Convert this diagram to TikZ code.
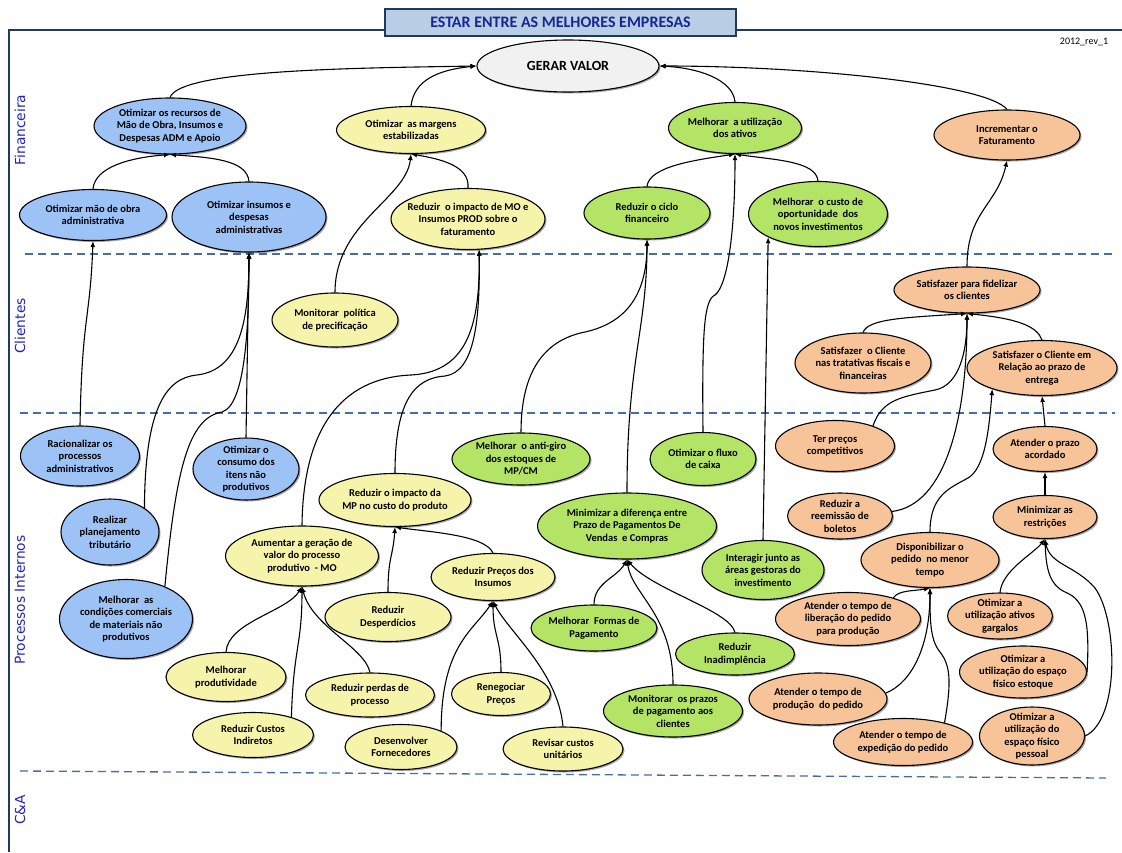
\documentclass[tikz,border=0pt]{standalone}
\usepackage{fontspec}
\setmainfont{Carlito}
\newfontfamily\sidefont{DejaVu Sans}
\usetikzlibrary{shapes.geometric,arrows.meta,shadows}
\definecolor{cblue}{RGB}{157,195,246}
\definecolor{cyel}{RGB}{246,243,170}
\definecolor{cgreen}{RGB}{180,228,102}
\definecolor{corange}{RGB}{246,196,152}
\definecolor{cgray}{RGB}{241,241,241}
\definecolor{navy}{RGB}{31,56,100}
\definecolor{dashc}{RGB}{70,110,165}
\definecolor{lblue}{RGB}{35,35,190}
\definecolor{titlefill}{RGB}{185,205,229}
\definecolor{titletext}{RGB}{20,40,150}
\begin{document}
\begin{tikzpicture}[x=1pt,y=-1pt,
  goal/.style={ellipse, draw=black, line width=1.1pt, inner xsep=-6pt, inner ysep=-2pt, align=center,
    font=\fontsize{10.5}{12.5}\selectfont\bfseries,
    drop shadow={shadow xshift=1.5pt,shadow yshift=-1.5pt,opacity=0.35,fill=black}},
  sz/.style 2 args={minimum width=#1pt, minimum height=#2pt},
  gb/.style={goal, fill=cblue},
  gy/.style={goal, fill=cyel},
  gg/.style={goal, fill=cgreen},
  go/.style={goal, fill=corange},
  four/.style={inner ysep=-5pt},
  conn/.style={draw=black, line width=1.1pt, -{Latex[length=6pt,width=5pt]}},
  sep/.style={draw=dashc, line width=1.3pt, dash pattern=on 8pt off 5pt},
  side/.style={rotate=90, text=lblue, font=\sidefont\fontsize{13.8}{16}\selectfont}
]
\useasboundingbox (0,0) rectangle (1122,852);
% frame
\draw[navy, line width=1.3pt] (9,852) -- (9,30) -- (1122,30);
\node[draw=navy, line width=1.3pt, fill=titlefill, minimum width=351pt, minimum height=27pt, inner sep=0pt,
  text=titletext, font=\fontsize{16}{19}\selectfont\bfseries] (title) at (560.5,22.5) {ESTAR ENTRE AS MELHORES EMPRESAS};
\node[font=\fontsize{10}{12}\selectfont] (rev) at (1084,42) {2012\_rev\_1};
% separators
\draw[sep] (25,254) -- (1115,254);
\draw[sep] (20,413) -- (1115,413);
\draw[sep] (20,771) -- (1106,778);
% side labels
\node[side] (lf) at (20,130) {Financeira};
\node[side] (lc) at (20,326) {Clientes};
\node[side] (lp) at (20,600) {Processos Internos};
\node[side] (la) at (20,810) {C\&A};
% nodes
\node[goal, fill=cgray, sz={182}{52}, font=\fontsize{14}{16}\selectfont\bfseries] (G) at (568,66) {GERAR VALOR};
\node[gb, sz={152}{56}] (n1) at (170,126) {Otimizar os recursos de\\Mão de Obra, Insumos e\\Despesas ADM e Apoio};
\node[gy, sz={149}{47}] (n2) at (411,130) {Otimizar\ \ as margens\\estabilizadas};
\node[gg, sz={133}{51}] (n3) at (735,128) {Melhorar\ \ a utilização\\dos ativos};
\node[go, sz={146}{50}] (n4) at (1007,135) {Incrementar o\\Faturamento};
\node[gb, sz={147}{51}] (n5) at (93,215) {Otimizar mão de obra\\administrativa};
\node[gb, sz={154}{70}] (n6) at (249,217) {Otimizar insumos e\\despesas\\administrativas};
\node[gy, sz={154}{61}] (n7) at (468,219) {Reduzir\ \ o impacto de MO e\\Insumos PROD sobre o\\faturamento};
\node[gg, sz={126}{52}] (n8) at (647,213) {Reduzir o ciclo\\financeiro};
\node[gg, sz={139}{65}] (n9) at (818,214) {Melhorar\ \ o custo de\\oportunidade\ \ dos\\novos investimentos};
\node[gy, sz={126}{54}] (n10) at (335,320) {Monitorar\ \ política\\de precificação};
\node[go, sz={146}{46}] (n39) at (967,290) {Satisfazer para fidelizar\\os clientes};
\node[go, sz={136}{60}] (n40) at (863,363) {Satisfazer\ \ o Cliente\\nas tratativas fiscais e\\financeiras};
\node[go, sz={150}{55}] (n41) at (1042,368) {Satisfazer o Cliente em\\Relação ao prazo de\\entrega};
\node[gb, sz={119}{60}] (n11) at (80,456) {Racionalizar os\\processos\\administrativos};
\node[gb, four, sz={106}{62}] (n12) at (246,469) {Otimizar o\\consumo dos\\itens não\\produtivos};
\node[gg, sz={138}{52}] (n15) at (521,459) {Melhorar\ \ o anti-giro\\dos estoques de\\MP/CM};
\node[gg, sz={106}{53}] (n16) at (703,459) {Otimizar o fluxo\\de caixa};
\node[go, sz={119}{51}] (n42) at (835,446) {Ter preços\\competitivos};
\node[go, sz={104}{45}] (n43) at (1045,449) {Atender o prazo\\acordado};
\node[gy, sz={152}{53}] (n14) at (395,500) {Reduzir o impacto da\\MP no custo do produto};
\node[gb, sz={98}{66}] (n13) at (110,532) {Realizar\\planejamento\\tributário};
\node[gg, sz={179}{66}] (n17) at (627,526) {Minimizar a diferença entre\\Prazo de Pagamentos De\\Vendas\ \ e Compras};
\node[go, sz={105}{46}] (n44) at (840,516) {Reduzir a\\reemissão de\\boletos};
\node[go, sz={104}{43}] (n45) at (1045,517) {Minimizar as\\restrições};
\node[gy, sz={153}{60}] (n19) at (302,556) {Aumentar a geração de\\valor do processo\\produtivo\ \ - MO};
\node[gy, sz={124}{47}] (n18) at (493,577) {Reduzir Preços dos\\Insumos};
\node[gg, sz={122}{59}] (n31) at (763,570) {Interagir junto as\\áreas gestoras do\\investimento};
\node[go, sz={138}{55}] (n32) at (930,560) {Disponibilizar o\\pedido\ \ no menor\\tempo};
\node[gb, four, sz={133}{79}] (n21) at (126,619) {Melhorar\ \ as\\condições comerciais\\de materiais não\\produtivos};
\node[gy, sz={126}{49}] (n20) at (388,617) {Reduzir\\Desperdícios};
\node[gg, sz={126}{46}] (n27) at (594,628) {Melhorar\ \ Formas de\\Pagamento};
\node[go, sz={145}{53}] (n33) at (848,619) {Atender o tempo de\\liberação do pedido\\para produção};
\node[go, sz={105}{46}] (n36) at (1000,616) {Otimizar a\\utilização ativos\\gargalos};
\node[gg, sz={119}{42}] (n28) at (735,654) {Reduzir\\Inadimplência};
\node[go, sz={127}{52}] (n37) at (1023,672) {Otimizar a\\utilização do espaço\\físico estoque};
\node[gy, sz={120}{49}] (n22) at (226,677) {Melhorar\\produtividade};
\node[gy, sz={129}{44}] (n24) at (370,695) {Reduzir perdas de\\processo};
\node[gy, sz={99}{43}] (n25) at (501,694) {Renegociar\\Preços};
\node[go, sz={138}{52}] (n34) at (818,699) {Atender o tempo de\\produção\ \ do pedido};
\node[gg, sz={139}{52}] (n29) at (673,711) {Monitorar\ \ os prazos\\de pagamento aos\\clientes};
\node[gy, sz={121}{45}] (n23) at (253,735) {Reduzir Custos\\Indiretos};
\node[go, sz={139}{47}] (n35) at (903,742) {Atender o tempo de\\expedição do pedido};
\node[go, four, sz={105}{58}] (n38) at (1032,736) {Otimizar a\\utilização do\\espaço físico\\pessoal};
\node[gy, sz={112}{45}] (n26) at (401,747) {Desenvolver\\Fornecedores};
\node[gy, sz={120}{44}] (n30) at (563,749) {Revisar custos\\unitários};
% connectors
\draw[conn] (n1.north) .. controls +(10,-28) and +(-120,2) .. (G.west);
\draw[conn] (n2.north) .. controls +(3,-25) and +(-40,4) .. (G.west);
\draw[conn] (n3.north) .. controls +(-2,-22) and +(40,2) .. (G.east);
\draw[conn] (n4.north) .. controls +(-20,-25) and +(150,0) .. (G.east);
\draw[conn] (n5.north) .. controls +(2,-22) and +(-40,3) .. (n1.south);
\draw[conn] (n6.north) .. controls +(-2,-22) and +(40,3) .. (n1.south);
\draw[conn] (n7.north) .. controls +(2,-22) and +(30,5) .. (n2.south);
\draw[conn] (n10.north) .. controls +(0,-70) and +(-5,45) .. (n2.south);
\draw[conn] (n11.north) .. controls +(2,-110) and +(-3,80) .. (n5.south);
\draw[conn] (n12.north) -- (n6.south);
\draw[conn] (n13.35) .. controls (145,410) and (165,378) .. (197,375) .. controls (240,370) and (249,320) .. (n6.south);
\draw[conn] (n21.40) .. controls (176,470) and (188,418) .. (222,412) .. controls (245,405) and (249,330) .. (n6.south);
\draw[conn] (n19.north) .. controls (303,430) and (340,378) .. (411,375) .. controls (470,372) and (480,320) .. (n7.290);
\draw[conn] (n14.north) .. controls (395,400) and (415,378) .. (445,376) .. controls (475,372) and (480,320) .. (n7.290);
\draw[conn] (n15.north) .. controls (521,370) and (545,340) .. (585,332) .. controls (630,322) and (647,290) .. (n8.south);
\draw[conn] (n17.north) .. controls (627,360) and (647,330) .. (n8.south);
\draw[conn] (n16.north) .. controls (702,330) and (704,300) .. (715,295) .. controls (728,285) and (735,230) .. (n3.south);
\draw[conn] (n31.north) -- (n9.205);
\draw[conn] (n8.north) .. controls +(2,-20) and +(-40,6) .. (n3.south);
\draw[conn] (n9.north) .. controls +(-2,-20) and +(40,6) .. (n3.south);
\draw[conn] (n18.north) .. controls +(-8,-18) and +(35,5) .. (n14.south);
\draw[conn] (n20.north) .. controls +(0,-35) and +(-2,30) .. (n14.south);
\draw[conn] (n22.north) .. controls +(2,-30) and +(-15,25) .. (n19.south);
\draw[conn] (n23.25) .. controls +(2,-70) and +(0,60) .. (n19.south);
\draw[conn] (n24.north) .. controls +(-5,-25) and +(10,40) .. (n19.south);
\draw[conn] (n25.north) .. controls +(0,-35) and +(0,35) .. (n18.south);
\draw[conn] (n26.22) .. controls +(0,-85) and +(-20,30) .. (n18.south);
\draw[conn] (n30.north) .. controls +(-5,-55) and +(15,30) .. (n18.south);
\draw[conn] (n27.north) .. controls +(0,-22) and +(-10,18) .. (n17.south);
\draw[conn] (n29.north) .. controls +(0,-70) and +(5,35) .. (n17.south);
\draw[conn] (n28.north) .. controls +(-5,-22) and +(25,30) .. (n17.south);
\draw[conn] (n39.north) .. controls +(0,-55) and +(-10,45) .. (n4.south);
\draw[conn] (n40.north) .. controls +(5,-14) and +(-60,4) .. (n39.south);
\draw[conn] (n41.north) .. controls +(-5,-14) and +(50,5) .. (n39.south);
\draw[conn] (n42.28) .. controls (882,400) and (900,397) .. (935,390) .. controls (960,385) and (967,350) .. (n39.south);
\draw[conn] (n44.5) .. controls (945,505) and (967,420) .. (n39.south);
\draw[conn] (n32.north) .. controls (930,495) and (950,488) .. (968,478) .. controls (985,468) and (989,430) .. (n41.203);
\draw[conn] (n43.north) -- (n41.south);
\draw[conn] (n45.north) -- (n43.south);
\draw[conn] (n33.25) .. controls +(5,-8) and +(-15,3) .. (n32.south);
\draw[conn] (n34.5) .. controls +(25,-10) and +(0,60) .. (n32.south);
\draw[conn] (n35.25) .. controls (952,680) and (950,665) .. (940,652) .. controls (930,640) and (930,620) .. (n32.south);
\draw[conn] (n36.north) .. controls +(2,-22) and +(-12,15) .. (n45.south);
\draw[conn] (n37.east) .. controls (1090,620) and (1085,600) .. (1065,592) .. controls (1050,585) and (1046,570) .. (n45.south);
\draw[conn] (n38.east) .. controls (1120,720) and (1118,620) .. (1095,588) .. controls (1075,565) and (1050,565) .. (n45.south);
\end{tikzpicture}
\end{document}
